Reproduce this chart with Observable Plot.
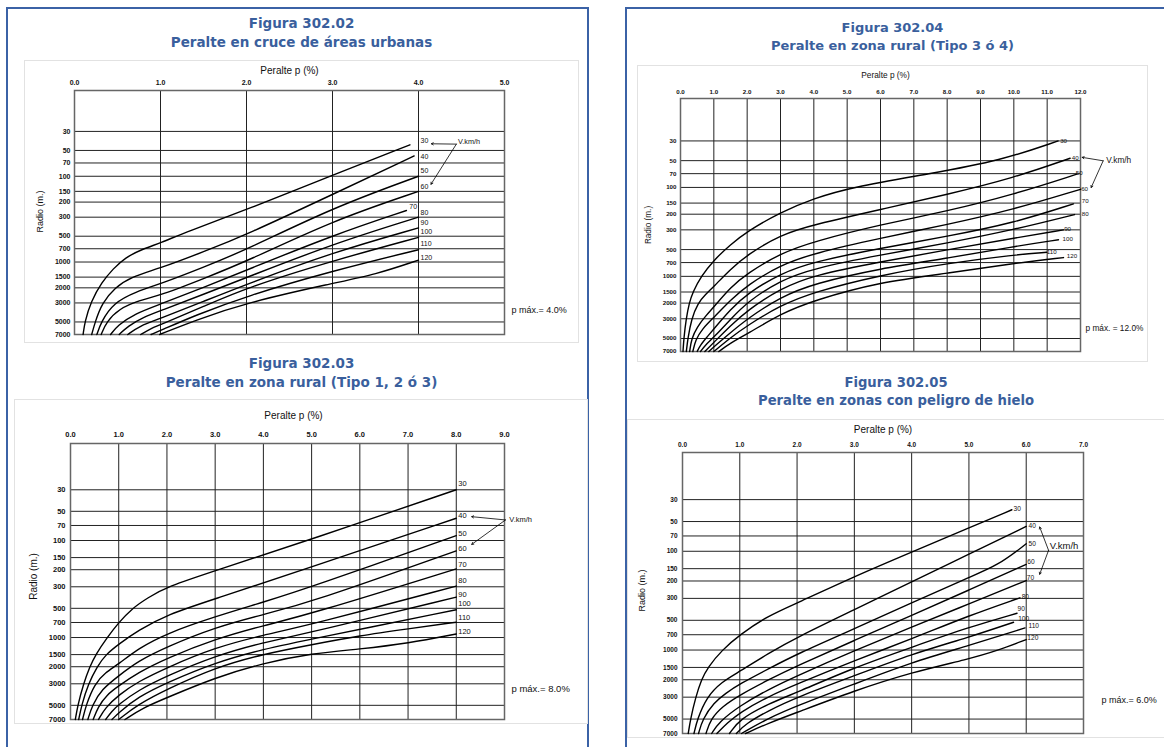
<!DOCTYPE html>
<html><head><meta charset="utf-8">
<script src="https://cdn.jsdelivr.net/npm/d3@7"></script>
<script src="https://cdn.jsdelivr.net/npm/@observablehq/plot@0.6"></script>
<style>
html,body{margin:0;padding:0;background:#fff;}
body{width:1164px;height:747px;position:relative;overflow:hidden;font-family:"Liberation Sans",Arial,sans-serif;}
.box{position:absolute;border:2px solid #3b62a6;border-bottom:none;box-sizing:border-box;}
.title{position:absolute;text-align:center;font-family:"DejaVu Sans",Verdana,sans-serif;font-weight:bold;color:#3a5f9d;white-space:nowrap;}
.gbox{position:absolute;border:1px solid #e2e2e2;box-sizing:border-box;}
.chart{position:absolute;}
.chart svg{overflow:visible;}
</style></head><body>
<div class="box" style="left:6px;top:7px;width:583px;height:760px"></div>
<div class="box" style="left:625px;top:7px;width:560px;height:760px"></div>

<div class="title" style="left:0;top:14px;width:603px;font-size:13.5px;line-height:19px">Figura 302.02<br>Peralte en cruce de áreas urbanas</div>
<div class="title" style="left:0;top:354px;width:603px;font-size:13.5px;line-height:19px">Figura 302.03<br>Peralte en zona rural (Tipo 1, 2 ó 3)</div>
<div class="title" style="left:626px;top:19px;width:533px;font-size:13px;line-height:17.6px">Figura 302.04<br>Peralte en zona rural (Tipo 3 ó 4)</div>
<div class="title" style="left:626px;top:374px;width:540px;font-size:13.2px;line-height:18.4px">Figura 302.05<br>Peralte en zonas con peligro de hielo</div>

<div class="gbox" style="left:24px;top:60px;width:555px;height:283px"></div>
<div class="gbox" style="left:14px;top:399px;width:574px;height:325px"></div>
<div class="gbox" style="left:637px;top:65px;width:511px;height:297px"></div>
<div class="gbox" style="left:627px;top:419px;width:540px;height:319px"></div>

<div id="c1" class="chart" style="left:24px;top:60px"></div>
<div id="c2" class="chart" style="left:14px;top:399px"></div>
<div id="c3" class="chart" style="left:637px;top:65px"></div>
<div id="c4" class="chart" style="left:627px;top:419px"></div>

<script>
// Speeds V (km/h), one curve each
const speeds = [30, 40, 50, 60, 70, 80, 90, 100, 110, 120];
// Radius gridlines / tick labels (m)
const radioTicks = [30, 50, 70, 100, 150, 200, 300, 500, 700, 1000, 1500, 2000, 3000, 5000, 7000];

// ---- Figura 302.02  Peralte en cruce de áreas urbanas  (points: [p %, R m]) ----
const urbanCurves = [
  [[0.10,7000],[0.12,5000],[0.19,2900],[0.32,1700],[0.45,1200],[0.585,890],[0.80,700],[1.0,600],[1.3,445],[2.0,246],[3.0,97],[3.9,43]],
  [[0.20,7000],[0.24,5000],[0.32,3000],[0.47,2000],[0.65,1500],[1.0,1180],[1.5,760],[2.0,480],[3.0,163],[3.95,58]],
  [[0.26,7000],[0.31,5000],[0.45,3000],[0.72,2200],[1.0,1800],[1.5,1150],[2.0,719],[3.0,233],[4.0,100]],
  [[0.31,7000],[0.37,5000],[0.52,3500],[0.75,2800],[1.0,2450],[1.5,1560],[2.0,985],[3.0,329],[4.0,150]],
  [[0.42,7000],[0.50,5500],[0.70,4000],[1.0,3100],[1.5,1980],[2.0,1244],[3.0,488],[3.86,251]],
  [[0.52,7000],[0.62,5600],[0.80,4400],[1.0,3700],[1.5,2380],[2.0,1517],[3.0,617],[4.0,300]],
  [[0.62,7000],[0.75,5600],[1.0,4550],[1.5,2880],[2.0,1816],[3.0,773],[4.0,400]],
  [[0.77,7000],[0.88,6000],[1.0,5400],[1.5,3300],[2.0,1990],[3.0,967],[4.0,515]],
  [[0.89,7000],[1.0,6300],[1.4,4200],[2.0,2490],[3.0,1267],[4.0,719]],
  [[0.99,7000],[1.4,4800],[2.0,2980],[3.0,1768],[3.5,1400],[4.0,950]]
];
const urbanLabelP = [4, 4, 4, 4, 3.87, 4, 4, 4, 4, 4];
const urbanLabelR = [39, 58.5, 87, 131, 225, 265, 350, 443, 617, 902];

// ---- Figura 302.03  Peralte en zona rural (Tipo 1, 2 ó 3) ----
const rural1Curves = [
  [[0.10,7000],[0.15,5000],[0.27,3000],[0.40,2000],[0.52,1500],[0.76,1000],[1.0,700],[1.28,500],[1.6,390],[2.0,300],[3.0,205],[5.0,97],[8.0,30]],
  [[0.17,7000],[0.23,5000],[0.37,3000],[0.55,2000],[0.73,1500],[1.0,1170],[1.4,850],[2.0,579],[3.0,400],[5.0,187],[8.0,59]],
  [[0.25,7000],[0.32,5000],[0.50,3000],[0.72,2300],[1.0,1880],[1.4,1300],[2.0,904],[3.0,608],[4.0,432],[5.0,301],[8.0,89]],
  [[0.36,7000],[0.45,5000],[0.65,3400],[1.0,2485],[1.4,1750],[2.0,1245],[3.0,784],[4.0,579],[5.0,432],[8.0,128]],
  [[0.47,7000],[0.57,5200],[0.75,3900],[1.0,3155],[1.4,2300],[2.0,1630],[3.0,1036],[4.0,753],[5.0,570],[8.0,196]],
  [[0.58,7000],[0.72,5300],[1.0,3910],[1.4,2850],[2.0,2040],[3.0,1264],[4.0,942],[5.0,736],[8.0,295]],
  [[0.73,7000],[0.85,5800],[1.0,4890],[1.4,3500],[2.0,2485],[3.0,1542],[4.0,1122],[5.0,884],[8.0,383]],
  [[0.86,7000],[1.0,5966],[1.4,4100],[2.0,2915],[3.0,1808],[4.0,1315],[5.0,1036],[8.0,518]],
  [[1.0,7000],[1.4,4900],[2.0,3418],[3.0,2038],[4.0,1482],[5.0,1186],[6.0,957],[7.0,815],[8.0,695]],
  [[1.13,7000],[1.5,5300],[2.0,4170],[3.0,2587],[4.0,1837],[5.0,1458],[6.0,1315],[7.0,1148],[8.0,919]]
];
const rural1LabelP = [8, 8, 8, 8, 8, 8, 8, 8, 8, 8];
const rural1LabelR = [25.6, 55.8, 84.4, 121.7, 177, 259, 359, 449, 617, 863];

// ---- Figura 302.04  Peralte en zona rural (Tipo 3 ó 4) ----
const rural3Curves = [
  [[0.075,7000],[0.10,5000],[0.17,3000],[0.26,2000],[0.37,1500],[0.62,1000],[1.0,655],[1.5,440],[2.0,312],[3.0,190],[4.0,133],[5.1,100],[7.5,70],[9.6,50],[11.33,30]],
  [[0.175,7000],[0.22,5000],[0.33,3000],[0.52,2000],[0.75,1600],[1.0,1300],[1.5,830],[2.0,574],[3.0,340],[4.0,262],[6.0,177],[8.0,120],[10.0,78],[11.69,47]],
  [[0.275,7000],[0.33,5000],[0.50,3700],[0.75,2800],[1.0,2215],[1.5,1330],[2.0,927],[3.0,550],[4.0,405],[6.0,262],[8.0,185],[10.0,120],[11.89,71]],
  [[0.37,7000],[0.45,5200],[0.65,3900],[1.0,2900],[1.5,1850],[2.0,1258],[3.0,746],[4.0,550],[6.0,372],[8.0,262],[10.0,177],[12.0,105]],
  [[0.50,7000],[0.60,5900],[0.80,4800],[1.0,3900],[1.5,2350],[2.0,1563],[3.0,927],[4.0,684],[6.0,483],[8.0,356],[10.0,251],[11.79,153]],
  [[0.60,7000],[0.75,5900],[1.0,4850],[1.5,3050],[2.0,1945],[3.0,1104],[4.0,813],[6.0,574],[8.0,423],[10.0,299],[11.82,202]],
  [[0.73,7000],[1.0,5525],[1.5,3600],[2.0,2417],[3.0,1372],[4.0,968],[6.0,684],[8.0,504],[10.0,372],[11.49,300]],
  [[0.85,7000],[1.0,6190],[1.5,4300],[2.0,3000],[3.0,1706],[4.0,1204],[6.0,813],[8.0,627],[10.0,462],[11.34,388]],
  [[1.0,7000],[1.5,4900],[2.0,3576],[3.0,2120],[4.0,1497],[6.0,968],[8.0,714],[10.0,574],[10.99,536]],
  [[1.15,7000],[1.5,5600],[2.0,4450],[3.0,2637],[4.0,1862],[6.0,1153],[8.0,927],[10.0,714],[11.49,615]]
];
const rural3LabelP = [11.39, 11.74, 11.86, 12.02, 12.04, 12.04, 11.51, 11.46, 10.99, 11.59];
const rural3LabelR = [30, 46.8, 69, 103, 142.6, 198.6, 294, 378, 526, 590];

// ---- Figura 302.05  Peralte en zonas con peligro de hielo ----
const iceCurves = [
  [[0.10,7000],[0.14,5000],[0.23,3000],[0.33,2000],[0.44,1500],[0.69,1000],[1.0,700],[1.49,450],[2.0,335],[3.0,180],[4.0,102],[5.0,58],[5.75,38]],
  [[0.20,7000],[0.26,5000],[0.42,3000],[0.68,2100],[1.0,1650],[1.5,1080],[2.0,743],[3.0,391],[4.0,204],[5.0,107],[6.0,56]],
  [[0.28,7000],[0.35,5000],[0.55,3400],[0.75,2750],[1.0,2200],[1.5,1550],[2.0,1096],[3.0,610],[4.0,333],[5.0,183],[5.5,140],[6.0,84]],
  [[0.41,7000],[0.49,5000],[0.70,3700],[1.0,2850],[1.5,2000],[2.0,1440],[3.0,800],[4.0,445],[5.0,247],[6.0,136]],
  [[0.51,7000],[0.63,5400],[1.0,3665],[1.5,2500],[2.0,1820],[3.0,1014],[4.0,587],[5.0,341],[6.0,198]],
  [[0.60,7000],[0.78,5500],[1.0,4285],[1.5,2950],[2.0,2210],[3.0,1280],[4.0,772],[5.0,448],[5.89,296]],
  [[0.82,7000],[1.0,5000],[1.5,3500],[2.0,2685],[3.0,1500],[4.0,938],[5.0,587],[5.84,424]],
  [[0.94,7000],[1.1,5600],[1.5,4100],[2.0,3000],[3.0,1820],[4.0,1096],[5.0,743],[5.78,523]],
  [[1.03,7000],[1.5,4900],[2.0,3665],[3.0,2210],[4.0,1332],[5.0,902],[5.98,597]],
  [[1.10,7000],[1.5,5500],[2.0,4285],[3.0,2582],[4.0,1683],[5.0,1233],[5.5,1014],[6.0,784]]
];
const iceLabelP = [5.78, 6.04, 6.04, 6.02, 6.01, 5.92, 5.85, 5.86, 6.04, 6.02];
const iceLabelR = [37.6, 55.5, 83.8, 128.7, 187, 287, 386, 484, 574, 760];

// "V.km/h" annotation: text anchor and arrow ends [p, R]
const urbanVText = [4.46, 39.6];
const urbanVArrows = [[4.44, 42.2, 4.15, 41.8], [4.44, 42.2, 4.145, 124]];
const rural1VText = [9.1, 61.4];
const rural1VArrows = [[9.02, 61.4, 8.32, 56.8], [9.02, 61.4, 8.32, 109.7]];
const rural3VText = [12.77, 50];
const rural3VArrows = [[12.68, 50.2, 12.05, 45.9], [12.68, 50.2, 12.32, 100.3]];
const iceVText = [6.41, 88.5];
const iceVArrows = [[6.39, 97.8, 6.235, 56.8], [6.39, 97.8, 6.235, 171]];

const FONT = "Liberation Sans, Arial, sans-serif";

function makeChart(cfg) {
  const rows = cfg.curves.flatMap((pts, i) => pts.map(([p, r]) => ({v: speeds[i], p, r})));
  const labels = speeds.map((v, i) => ({v, p: cfg.labelP[i], r: cfg.labelR[i]}));
  const arrows = cfg.arrows.map(([x1, y1, x2, y2]) => ({x1, y1, x2, y2}));
  const xTicks = d3.range(0, cfg.xMax + 1);
  const svg = Plot.plot({
    width: cfg.w, height: cfg.h,
    marginTop: cfg.m[0], marginRight: cfg.m[1], marginBottom: cfg.m[2], marginLeft: cfg.m[3],
    style: {fontFamily: FONT, background: "transparent", overflow: "visible", color: "#111"},
    x: {domain: [0, cfg.xMax]},
    y: {type: "log", domain: [10, 7000], reverse: true, axis: null},
    marks: [
      Plot.ruleX(xTicks, {stroke: "#222", strokeWidth: 1}),
      Plot.ruleY(radioTicks, {stroke: "#222", strokeWidth: 1}),
      Plot.frame({stroke: "#666", strokeWidth: 1.5}),
      Plot.axisX(xTicks, {anchor: "top", tickSize: 0, tickPadding: cfg.xPad, tickFormat: d => d.toFixed(1), fontSize: cfg.tickFont, fontWeight: "bold", label: null, fill: "#111"}),
      Plot.text(radioTicks, {y: d => d, frameAnchor: "left", text: d => String(d), textAnchor: "end", dx: -cfg.yPad, fontSize: cfg.tickFont, fontWeight: "bold", fill: "#111"}),
      Plot.line(rows, {x: "p", y: "r", z: "v", curve: "basis", stroke: "#000", strokeWidth: 1.4}),
      Plot.text(labels, {x: "p", y: "r", text: d => String(d.v), textAnchor: "start", dx: cfg.labelDx, fontSize: cfg.labelFont, fill: "#111"}),
      Plot.text(["Peralte p (%)"], {frameAnchor: "top", text: d => d, dx: cfg.titleDx, dy: cfg.titleDy, fontSize: cfg.titleFont, fill: "#111"}),
      Plot.text(["Radio (m.)"], {frameAnchor: "left", text: d => d, textAnchor: "middle", rotate: -90, dx: cfg.radioDx, dy: cfg.radioDy, fontSize: cfg.radioFont, fill: "#111"}),
      Plot.text([cfg.pmaxText], {frameAnchor: "bottom-right", text: d => d, textAnchor: "start", dx: cfg.pmaxDx, dy: cfg.pmaxDy, fontSize: cfg.pmaxFont, fill: "#111"}),
      Plot.text([cfg.vText], {x: d => d[0], y: d => d[1], text: () => "V.km/h", textAnchor: "start", fontSize: cfg.vFont, fill: "#111"}),
      Plot.arrow(arrows, {x1: "x1", y1: "y1", x2: "x2", y2: "y2", stroke: "#000", strokeWidth: 0.8, headLength: 4})
    ]
  });
  document.getElementById(cfg.id).appendChild(svg);
}

makeChart({id: "c1", w: 555, h: 283, m: [30, 75, 9, 50], xMax: 5,
  curves: urbanCurves, labelP: urbanLabelP, labelR: urbanLabelR,
  tickFont: 7, xPad: 5.5, yPad: 4, labelFont: 7, labelDx: 2,
  titleFont: 10, titleDx: 0, titleDy: -24,
  radioFont: 9, radioDx: -34, radioDy: -1,
  pmaxText: "p máx.= 4.0%", pmaxFont: 9, pmaxDx: 7, pmaxDy: -22,
  vText: urbanVText, vFont: 7.3, arrows: urbanVArrows});

makeChart({id: "c2", w: 573, h: 325, m: [44, 83, 5, 56], xMax: 9,
  curves: rural1Curves, labelP: rural1LabelP, labelR: rural1LabelR,
  tickFont: 7.5, xPad: 6.2, yPad: 5, labelFont: 7.5, labelDx: 2,
  titleFont: 10, titleDx: 6, titleDy: -32,
  radioFont: 10, radioDx: -37, radioDy: -5,
  pmaxText: "p máx.= 8.0%", pmaxFont: 9.5, pmaxDx: 7, pmaxDy: -28,
  vText: rural1VText, vFont: 7.5, arrows: rural1VArrows});

makeChart({id: "c3", w: 511, h: 297, m: [33, 68, 11, 43], xMax: 12,
  curves: rural3Curves, labelP: rural3LabelP, labelR: rural3LabelR,
  tickFont: 6.2, xPad: 4.9, yPad: 4, labelFont: 6.2, labelDx: 0,
  titleFont: 8.3, titleDx: 5, titleDy: -26,
  radioFont: 8.2, radioDx: -32, radioDy: 0,
  pmaxText: "p máx. = 12.0%", pmaxFont: 8.3, pmaxDx: 5, pmaxDy: -21,
  vText: rural3VText, vFont: 8.3, arrows: rural3VArrows});

makeChart({id: "c4", w: 537, h: 319, m: [33, 81, 5, 55], xMax: 7,
  curves: iceCurves, labelP: iceLabelP, labelR: iceLabelR,
  tickFont: 6.5, xPad: 5.7, yPad: 5, labelFont: 6.6, labelDx: 0,
  titleFont: 10, titleDx: 0, titleDy: -27,
  radioFont: 9, radioDx: -40, radioDy: -2.5,
  pmaxText: "p máx.= 6.0%", pmaxFont: 9, pmaxDx: 18, pmaxDy: -31,
  vText: iceVText, vFont: 9.5, arrows: iceVArrows});
</script>
</body></html>
